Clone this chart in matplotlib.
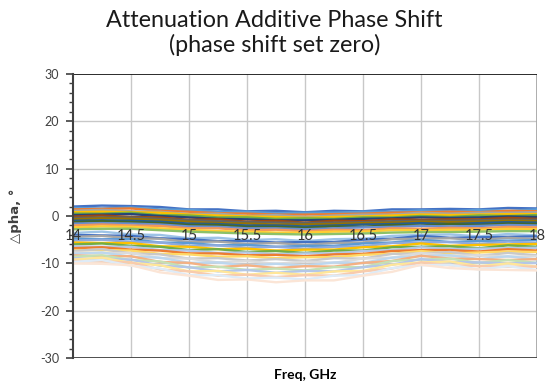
import matplotlib
matplotlib.use('Agg')
import matplotlib.pyplot as plt
from matplotlib.ticker import MultipleLocator

plt.rcParams['font.family'] = ['Lato', 'DejaVu Sans']
plt.rcParams['axes.unicode_minus'] = False

freq_ghz = [14.0, 14.25, 14.5, 14.75, 15.0, 15.25, 15.5, 15.75, 16.0,
            16.25, 16.5, 16.75, 17.0, 17.25, 17.5, 17.75, 18.0]

# attenuation states close to the reference state
upper_band = [
    [2.0, 2.2, 2.1, 1.9, 1.4, 1.4, 1.0, 1.1, 0.8, 1.1, 1.0, 1.4, 1.4, 1.5, 1.4, 1.7, 1.6],
    [1.7, 1.6, 1.8, 1.4, 1.3, 0.9, 0.9, 0.6, 0.7, 0.7, 0.9, 0.9, 1.2, 1.0, 1.3, 1.1, 1.4],
    [1.4, 1.5, 1.6, 1.1, 0.9, 0.6, 0.5, 0.3, 0.3, 0.4, 0.5, 0.7, 0.8, 0.9, 0.8, 1.1, 1.0],
    [1.1, 1.3, 1.0, 0.9, 0.4, 0.5, 0.0, 0.2, -0.2, 0.1, 0.3, 0.3, 0.7, 0.5, 0.7, 0.7, 0.8],
    [0.8, 0.9, 0.8, 0.7, 0.3, 0.1, -0.1, -0.2, -0.4, -0.2, -0.1, 0.1, 0.3, 0.2, 0.3, 0.4, 0.4],
    [0.5, 0.5, 0.7, 0.2, 0.1, -0.3, -0.3, -0.6, -0.5, -0.6, -0.3, -0.3, 0.0, -0.2, 0.1, 0.0, 0.2],
    [0.2, 0.3, 0.4, 0.0, -0.3, -0.6, -0.7, -0.9, -0.9, -0.8, -0.6, -0.5, -0.3, -0.4, -0.3, -0.1, -0.2],
    [-0.1, 0.1, -0.2, -0.3, -0.8, -0.7, -1.2, -1.0, -1.4, -1.0, -1.1, -0.7, -0.8, -0.7, -0.7, -0.4, -0.6],
    [-0.4, -0.3, -0.3, -0.6, -0.9, -1.1, -1.3, -1.4, -1.5, -1.4, -1.3, -1.1, -1.0, -1.0, -0.9, -0.8, -0.8],
    [-0.7, -0.5, -0.6, -0.9, -1.2, -1.5, -1.6, -1.8, -1.8, -1.7, -1.5, -1.4, -1.2, -1.3, -1.2, -1.0, -1.1],
    [-1.0, -0.9, -1.0, -1.2, -1.6, -1.7, -2.0, -2.0, -2.2, -2.0, -1.8, -1.7, -1.5, -1.7, -1.5, -1.3, -1.4],
    [-1.3, -1.1, -1.3, -1.5, -1.9, -1.9, -2.3, -2.3, -2.5, -2.2, -2.3, -1.9, -2.0, -1.7, -1.9, -1.6, -1.7],
    [-1.6, -1.5, -1.6, -1.8, -2.2, -2.3, -2.6, -2.6, -2.8, -2.6, -2.4, -2.3, -2.1, -2.2, -2.1, -1.9, -2.0],
    [-2.0, -1.8, -2.0, -2.1, -2.6, -2.6, -3.0, -2.9, -3.2, -2.9, -3.0, -2.6, -2.7, -2.5, -2.6, -2.3, -2.4],
    [-2.4, -2.2, -2.3, -2.6, -2.9, -3.2, -3.3, -3.5, -3.5, -3.3, -3.3, -3.0, -3.0, -2.9, -2.9, -2.7, -2.8],
    [-2.8, -2.7, -2.7, -3.0, -3.3, -3.5, -3.7, -3.8, -3.9, -3.8, -3.7, -3.5, -3.4, -3.4, -3.3, -3.2, -3.2],
]

mid_band = [
    [-3.6, -3.3, -3.9, -4.0, -4.7, -4.6, -5.1, -4.9, -5.3, -4.9, -4.8, -4.2, -4.0, -3.9, -4.3, -3.8, -4.1],
    [-4.0, -4.1, -4.2, -4.7, -4.9, -5.3, -5.3, -5.6, -5.5, -5.5, -5.0, -4.8, -4.2, -4.6, -4.5, -4.4, -4.3],
    [-4.4, -4.2, -4.7, -4.8, -5.5, -5.4, -5.9, -5.7, -6.1, -5.7, -5.6, -4.9, -4.8, -4.7, -5.1, -4.6, -4.9],
    [-4.8, -4.9, -4.9, -5.6, -5.7, -6.2, -6.1, -6.5, -6.3, -6.3, -5.8, -5.6, -5.0, -5.5, -5.3, -5.2, -5.1],
    [-5.2, -5.0, -5.5, -5.6, -6.3, -6.2, -6.7, -6.5, -6.9, -6.5, -6.4, -5.7, -5.6, -5.5, -5.9, -5.4, -5.7],
    [-5.6, -5.7, -5.7, -6.4, -6.5, -7.0, -6.9, -7.3, -7.1, -7.1, -6.6, -6.4, -5.8, -6.3, -6.1, -6.0, -5.9],
    [-6.0, -5.8, -6.3, -6.5, -7.2, -7.0, -7.6, -7.4, -7.8, -7.3, -7.3, -6.6, -6.5, -6.4, -6.8, -6.2, -6.5],
    [-6.4, -6.5, -6.5, -7.2, -7.3, -7.8, -7.7, -8.1, -7.9, -7.9, -7.4, -7.2, -6.6, -7.0, -6.9, -6.8, -6.7],
    [-6.8, -6.6, -7.1, -7.3, -7.9, -7.9, -8.3, -8.2, -8.5, -8.1, -8.0, -7.4, -7.2, -7.2, -7.5, -7.0, -7.3],
    [-7.2, -7.2, -7.3, -8.0, -8.1, -8.6, -8.5, -8.9, -8.7, -8.7, -8.2, -8.0, -7.4, -7.9, -7.7, -7.5, -7.6],
]

# highest attenuation states
lower_band = [
    [-7.4, -7.0, -7.9, -8.1, -9.0, -8.9, -9.4, -9.1, -9.5, -8.9, -9.0, -8.0, -7.9, -7.6, -8.4, -7.8, -8.3],
    [-7.7, -7.9, -7.8, -8.9, -9.0, -9.8, -9.5, -10.1, -9.6, -9.9, -9.0, -8.8, -7.8, -8.4, -8.3, -8.6, -8.5],
    [-8.0, -7.7, -8.6, -8.8, -9.9, -9.8, -10.5, -10.1, -10.5, -9.8, -9.9, -8.8, -8.5, -8.3, -9.1, -8.5, -9.2],
    [-8.3, -8.5, -8.5, -9.7, -9.9, -10.8, -10.4, -11.0, -10.6, -10.7, -9.9, -9.5, -8.4, -9.0, -9.1, -9.3, -9.1],
    [-8.6, -8.3, -9.3, -9.6, -10.9, -10.7, -11.4, -11.1, -11.5, -10.8, -10.8, -9.5, -9.2, -9.0, -9.9, -9.3, -9.9],
    [-8.9, -9.1, -9.2, -10.5, -10.8, -11.7, -11.4, -12.0, -11.6, -11.7, -10.8, -10.3, -9.1, -9.7, -9.8, -10.0, -9.9],
    [-9.2, -8.8, -9.9, -10.4, -11.7, -11.6, -12.4, -12.0, -12.4, -11.7, -11.6, -10.3, -9.8, -9.6, -10.6, -10.0, -10.7],
    [-9.5, -9.6, -9.8, -11.3, -11.7, -12.6, -12.4, -12.9, -12.5, -12.6, -11.7, -11.1, -9.8, -10.4, -10.6, -10.7, -10.7],
    [-9.7, -9.3, -10.5, -11.1, -12.5, -12.5, -13.2, -13.0, -13.4, -12.6, -12.5, -11.0, -10.4, -10.3, -11.3, -10.6, -11.4],
    [-10.0, -10.1, -10.4, -11.9, -12.6, -13.5, -13.4, -14.0, -13.6, -13.6, -12.6, -11.8, -10.3, -11.0, -11.3, -11.4, -11.5],
]

x_ticks = [14, 14.5, 15, 15.5, 16, 16.5, 17, 17.5, 18]
x_tick_labels = ['14', '14.5', '15', '15.5', '16', '16.5', '17', '17.5', '18']
y_ticks = [-30, -20, -10, 0, 10, 20, 30]

# Excel-like series colours
upper_colors = ['#4472C4', '#5B9BD5', '#ED7D31', '#A5A5A5', '#FFC000', '#70AD47',
                '#264478', '#9E480E', '#636363', '#997300', '#255E91', '#43682B',
                '#698ED0', '#F1975A', '#FFCD33', '#8CC168']
mid_colors = ['#9DC3E6', '#4472C4', '#A5A5A5', '#5B9BD5', '#8FAADC',
              '#FFC000', '#70AD47', '#B4C7E7', '#ED7D31', '#FFD966']
lower_colors = ['#C9C9C9', '#DBDBDB', '#BDD7EE', '#F4B183', '#C5E0B4',
                '#B4C7E7', '#FFE699', '#F8CBAD', '#DEEBF7', '#FBE5D6']

fig = plt.figure(figsize=(5.52, 3.87), dpi=100)
ax = fig.add_axes([0.1322, 0.0749, 0.8406, 0.7339])

# gridlines under the traces
for yv in y_ticks[1:-1]:
    ax.axhline(yv, color='#C8C8C8', lw=1.0, zorder=0)
for xv in x_ticks[1:-1]:
    ax.axvline(xv, color='#C8C8C8', lw=1.0, zorder=0)
ax.axvline(x_ticks[-1], color='#A6A6A6', lw=2.0, zorder=0)
ax.axhline(y_ticks[-1], color='#1A1A1A', lw=1.3, zorder=0)
ax.axhline(y_ticks[0], color='#404040', lw=1.3, zorder=0)

for band, colors in [(upper_band, upper_colors), (mid_band, mid_colors),
                     (lower_band, lower_colors)]:
    for vals, c in zip(band, colors):
        ax.plot(freq_ghz, vals, color=c, lw=1.7, zorder=2)

ax.set_xlim(14, 18)
ax.set_ylim(-30, 30)

for side in ['top', 'right']:
    ax.spines[side].set_visible(False)
ax.spines['left'].set_color('#404040')
ax.spines['left'].set_linewidth(1.5)
ax.spines['bottom'].set_position(('data', 0))
ax.spines['bottom'].set_visible(False)

ax.set_xticks(x_ticks)
ax.set_xticklabels(x_tick_labels)
ax.set_yticks(y_ticks)
ax.yaxis.set_minor_locator(MultipleLocator(2))
ax.tick_params(axis='x', length=0, pad=9, labelsize=10.5, labelcolor='#333333')
ax.tick_params(axis='y', which='major', length=5, width=1.2, color='#404040',
               labelsize=9, labelcolor='#404040', pad=5)
ax.tick_params(axis='y', which='minor', length=3, width=1.0, color='#404040')
ax.xaxis.set_zorder(3)

ax.set_xlabel('Freq, GHz', fontweight='bold', fontsize=10, labelpad=0)
ax.xaxis.set_label_coords(0.5, -0.04)
ax.set_ylabel('\u25b3pha, \u00b0', fontweight='bold', fontsize=9.5,
              family=['DejaVu Sans'], color='#404040')
ax.yaxis.set_label_coords(-0.11, 0.5)

fig.text(0.497, 0.975, 'Attenuation Additive Phase Shift\n(phase shift set zero)',
         ha='center', va='top', fontsize=16.8, linespacing=1.2, color='#1A1A1A')

fig.savefig('out.png', dpi=100)
